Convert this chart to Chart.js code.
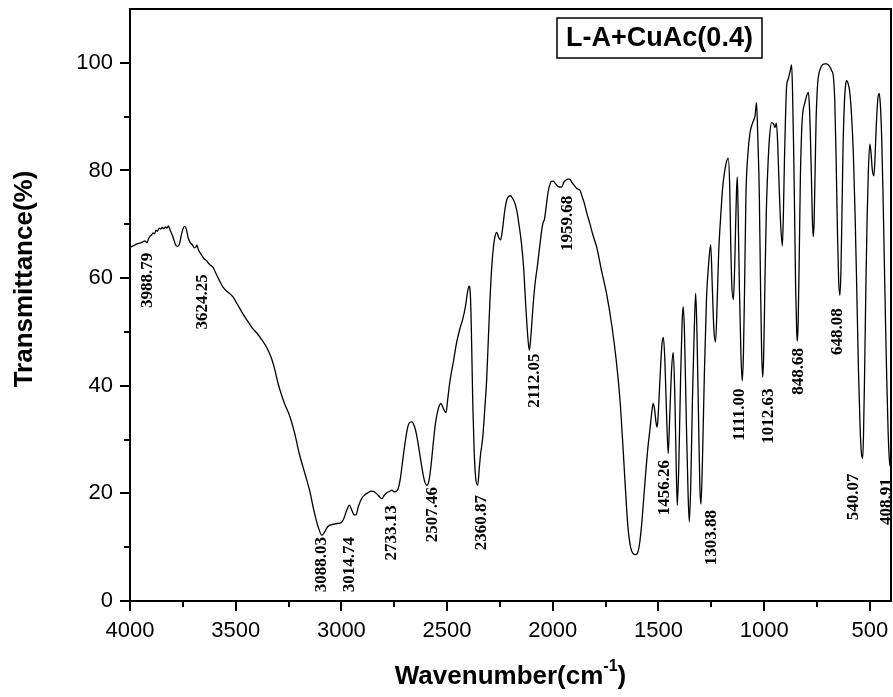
<!DOCTYPE html>
<html>
<head>
<meta charset="utf-8">
<title>FTIR L-A+CuAc(0.4)</title>
<script src="https://cdn.jsdelivr.net/npm/chart.js@4.4.1/dist/chart.umd.min.js"></script>
<style>
  html, body { margin: 0; padding: 0; background: #fff; }
  canvas { display: block; }
</style>
</head>
<body>
<canvas id="irChart" width="893" height="697"></canvas>
<script>
// spectrum: wavenumber (cm-1) and transmittance (%)
const wavenumber = [
  4000, 3985, 3970, 3955, 3940, 3930, 3920, 3912, 3905, 3898,
  3891, 3884, 3877, 3870, 3862, 3855, 3848, 3840, 3832, 3825,
  3818, 3810, 3800, 3790, 3782, 3773, 3765, 3756, 3748, 3740,
  3733, 3725, 3715, 3705, 3695, 3688, 3683, 3677, 3670, 3660,
  3650, 3640, 3631, 3620, 3607, 3595, 3580, 3560, 3540, 3513,
  3490, 3465, 3440, 3423, 3400, 3376, 3352, 3330, 3315, 3300,
  3285, 3270, 3243, 3220, 3200, 3175, 3150, 3130, 3110, 3092,
  3080, 3065, 3045, 3020, 3000, 2990, 2975, 2962, 2950, 2940,
  2931, 2920, 2905, 2890, 2875, 2860, 2845, 2830, 2818, 2808,
  2798, 2785, 2770, 2761, 2750, 2740, 2732, 2722, 2712, 2700,
  2688, 2676, 2666, 2655, 2645, 2632, 2620, 2608, 2595, 2585,
  2575, 2565, 2555, 2545, 2537, 2529, 2520, 2512, 2505, 2497,
  2486, 2470, 2455, 2440, 2425, 2412, 2403, 2396, 2390, 2386,
  2382, 2378, 2372, 2365, 2355, 2348, 2341, 2336, 2330, 2322,
  2313, 2305, 2297, 2288, 2280, 2272, 2265, 2256, 2247, 2238,
  2228, 2218, 2208, 2200, 2190, 2180, 2170, 2160, 2148, 2138,
  2128, 2118, 2111, 2103, 2093, 2084, 2072, 2060, 2050, 2045,
  2040, 2032, 2022, 2012, 2004, 1998, 1988, 1975, 1958, 1948,
  1938, 1928, 1919, 1910, 1900, 1890, 1880, 1871, 1860, 1850,
  1840, 1825, 1810, 1792, 1770, 1745, 1720, 1698, 1682, 1670,
  1658, 1645, 1632, 1620, 1608, 1598, 1590, 1580, 1570, 1560,
  1550, 1540, 1532, 1525, 1518, 1512, 1506, 1500, 1492, 1484,
  1477, 1470, 1462, 1454, 1447, 1438, 1430, 1422, 1416, 1411,
  1404, 1395, 1388, 1383, 1377, 1368, 1360, 1354, 1347, 1339,
  1331, 1324, 1318, 1310, 1304, 1299, 1292, 1283, 1273, 1262,
  1253, 1245, 1238, 1230, 1222, 1215, 1209, 1200, 1193, 1180,
  1170, 1163, 1158, 1154, 1146, 1141, 1136, 1131, 1127, 1123,
  1117, 1110, 1104, 1098, 1092, 1086, 1077, 1067, 1055, 1043,
  1036, 1030, 1023, 1017, 1012, 1007, 1002, 996, 990, 982,
  975, 965, 955, 949, 942, 936, 930, 922, 914, 909,
  904, 899, 894, 886, 878, 870, 866, 861, 856, 851,
  846, 843, 839, 834, 829, 823, 818, 808, 798, 791,
  786, 781, 776, 772, 768, 764, 759, 754, 748, 744,
  730, 715, 704, 690, 680, 673, 666, 660, 654, 648,
  642, 637, 632, 627, 621, 615, 610, 603, 595, 587,
  578, 570, 562, 554, 546, 540, 534, 530, 525, 519,
  513, 507, 500, 495, 488, 481, 476, 470, 463, 456,
  450, 444, 438, 432, 426, 420, 414, 409, 405, 402
];
const transmittance = [
  65.7, 66.0, 66.3, 66.5, 66.7, 66.9, 66.6, 67.3, 67.8, 68.0,
  68.4, 68.2, 68.9, 68.7, 69.3, 69.1, 69.4, 69.2, 69.5, 69.3,
  69.7, 68.9, 68.0, 66.8, 66.0, 65.9, 66.5, 68.2, 69.3, 69.6,
  69.0, 67.5, 66.6, 66.2, 65.6, 65.8, 66.1, 65.3, 64.8, 64.2,
  63.6, 63.3, 62.9, 62.4, 62.0, 61.0, 59.8, 58.3, 57.5, 56.5,
  55.0, 53.3, 51.8, 50.8, 49.8, 48.5, 47.0, 45.0, 43.0, 40.5,
  38.5, 36.8, 34.2, 31.0, 27.5, 24.0, 20.5, 16.8, 13.8, 12.2,
  12.8, 13.8, 14.2, 14.4, 14.6, 15.2, 16.8, 17.8, 16.8, 16.0,
  16.0, 17.5, 19.0, 19.7, 20.1, 20.4, 20.3, 19.8, 19.3, 19.0,
  19.6, 20.1, 20.4, 20.6, 20.3, 20.4, 20.8, 22.5, 25.5, 29.0,
  32.0, 33.2, 33.3, 32.5, 31.0, 28.0, 25.0, 22.5, 21.5, 22.5,
  25.5, 29.5, 33.0, 35.2, 36.3, 36.7, 36.0, 35.3, 35.0, 37.5,
  41.0, 44.5, 48.0, 50.5, 52.5, 55.0, 57.5, 58.5, 57.0, 52.0,
  44.0, 36.0, 28.0, 23.0, 21.5, 24.5, 27.5, 28.8, 31.0, 35.5,
  41.0, 48.5, 56.0, 62.5, 66.0, 68.0, 68.5, 67.6, 67.1, 69.0,
  72.3, 74.5, 75.2, 75.3, 74.8, 74.0, 72.5, 70.0, 66.4, 62.0,
  55.0, 49.0, 46.6, 49.5, 55.0, 58.9, 62.5, 66.5, 69.5, 70.4,
  70.8, 73.0, 76.0, 77.6, 78.0, 78.0, 77.6, 77.0, 76.9, 77.8,
  78.2, 78.4, 78.4, 77.8, 77.3, 76.8, 76.5, 76.3, 75.0, 73.8,
  72.2, 70.2, 68.0, 65.7, 61.5, 57.0, 51.0, 44.1, 37.3, 30.0,
  22.0, 14.0, 10.0, 8.8, 8.6, 9.0, 10.5, 14.0, 19.0, 24.0,
  28.5, 32.0, 35.0, 36.7, 35.5, 33.3, 32.3, 35.5, 42.0, 47.5,
  49.0, 45.0, 35.0, 27.4, 34.0, 43.0, 46.2, 37.0, 25.0, 17.8,
  25.0, 42.0, 52.0, 54.7, 50.0, 33.0, 20.0, 14.7, 22.0, 38.0,
  50.0, 57.2, 50.0, 33.0, 21.0, 18.0, 26.0, 42.0, 56.0, 63.0,
  66.2, 58.0, 50.5, 48.1, 56.0, 65.0, 69.4, 75.0, 78.1, 81.3,
  82.3, 77.0, 66.0, 59.6, 56.0, 60.0, 68.0, 76.0, 78.8, 72.0,
  58.0, 46.0, 40.9, 46.0, 60.0, 75.7, 83.0, 87.0, 88.8, 90.2,
  92.6, 86.0, 75.7, 58.0, 46.5, 41.6, 46.0, 60.0, 72.0, 81.0,
  86.0, 88.9, 88.6, 88.0, 88.8, 85.0, 78.0, 70.0, 66.0, 72.0,
  82.0, 90.0, 95.5, 97.0, 98.3, 99.6, 95.0, 85.0, 72.0, 58.0,
  50.0, 48.3, 52.0, 64.0, 78.0, 87.0, 90.5, 92.5, 94.0, 94.5,
  92.0, 86.0, 78.0, 71.0, 67.7, 70.0, 80.0, 90.0, 95.5, 97.3,
  99.3, 99.8, 99.8, 99.3, 98.5, 97.6, 93.0, 83.0, 70.0, 60.0,
  56.8, 61.0, 72.0, 84.0, 92.0, 95.8, 96.7, 96.2, 94.5, 90.5,
  83.0, 72.0, 58.0, 43.0, 32.0, 27.5, 26.5, 31.0, 42.0, 58.0,
  71.0, 80.0, 84.9, 83.5, 80.0, 79.0, 82.0, 88.0, 93.0, 94.3,
  92.0, 86.0, 76.0, 64.0, 52.0, 41.0, 32.0, 27.0, 25.3, 25.0
];

// peak annotations: text, wavenumber of label centre, %T at label top
const peakLabels = ['3988.79', '3624.25', '3088.03', '3014.74', '2733.13', '2507.46',
  '2360.87', '2112.05', '1959.68', '1456.26', '1303.88', '1111.00', '1012.63',
  '848.68', '648.08', '540.07', '408.91'];
const peakLabelX = [3915, 3655, 3092, 2959, 2761, 2567, 2335, 2084, 1928, 1469, 1247,
  1115, 977, 835, 651, 575, 419];
const peakLabelTop = [64.7, 60.7, 11.9, 11.9, 17.8, 21.2, 19.7, 46.0, 75.3, 26.2, 16.9,
  39.5, 39.5, 47.0, 54.4, 23.7, 22.8];

const xTickValues = [4000, 3500, 3000, 2500, 2000, 1500, 1000, 500];
const xMinorValues = [3750, 3250, 2750, 2250, 1750, 1250, 750];
const yTickValues = [0, 20, 40, 60, 80, 100];
const yMinorValues = [10, 30, 50, 70, 90];
const sampleName = 'L-A+CuAc(0.4)';

const sansFont = "'Liberation Sans', Arial, sans-serif";
const serifFont = "'Liberation Serif', 'Times New Roman', serif";

Chart.defaults.font.family = sansFont;
Chart.defaults.color = '#000';

const points = wavenumber.map((w, i) => ({ x: w, y: transmittance[i] }));

// peak numbers go under the curve
const peakText = {
  id: 'peakText',
  beforeDatasetsDraw(chart) {
    const { ctx, scales: { x, y } } = chart;
    ctx.save();
    ctx.font = 'bold 17px ' + serifFont;
    ctx.fillStyle = '#000';
    ctx.textAlign = 'right';
    ctx.textBaseline = 'middle';
    peakLabels.forEach((t, i) => {
      ctx.save();
      ctx.translate(x.getPixelForValue(peakLabelX[i]), y.getPixelForValue(peakLabelTop[i]));
      ctx.rotate(-Math.PI / 2);
      ctx.fillText(t, 0, 0);
      ctx.restore();
    });
    ctx.restore();
  }
};

// box frame, outward ticks, axis titles and the sample box
const frame = {
  id: 'frame',
  afterDraw(chart) {
    const { ctx, chartArea: a, scales: { x, y } } = chart;
    ctx.save();
    ctx.strokeStyle = '#000';
    ctx.lineWidth = 2;
    ctx.strokeRect(a.left, a.top, a.right - a.left, a.bottom - a.top);

    ctx.beginPath();
    xTickValues.forEach(v => {
      const px = Math.round(x.getPixelForValue(v));
      ctx.moveTo(px, a.bottom); ctx.lineTo(px, a.bottom + 10);
    });
    xMinorValues.forEach(v => {
      const px = Math.round(x.getPixelForValue(v));
      ctx.moveTo(px, a.bottom); ctx.lineTo(px, a.bottom + 6);
    });
    yTickValues.forEach(v => {
      const py = Math.round(y.getPixelForValue(v));
      ctx.moveTo(a.left, py); ctx.lineTo(a.left - 10, py);
    });
    yMinorValues.forEach(v => {
      const py = Math.round(y.getPixelForValue(v));
      ctx.moveTo(a.left, py); ctx.lineTo(a.left - 6, py);
    });
    ctx.stroke();

    // sample name box
    ctx.lineWidth = 1.5;
    ctx.strokeRect(557, 18, 205, 40);
    ctx.font = 'bold 27px ' + sansFont;
    ctx.fillStyle = '#000';
    ctx.textAlign = 'center';
    ctx.textBaseline = 'middle';
    ctx.fillText(sampleName, 659.5, 39);

    // y title
    ctx.save();
    ctx.translate(25, 279);
    ctx.rotate(-Math.PI / 2);
    ctx.font = 'bold 26px ' + sansFont;
    ctx.fillText('Transmittance(%)', 0, 0);
    ctx.restore();

    // x title with superscript
    const main = 'Wavenumber(cm', sup = '-1', tail = ')';
    ctx.font = 'bold 26px ' + sansFont;
    const w1 = ctx.measureText(main).width, w3 = ctx.measureText(tail).width;
    ctx.font = 'bold 16px ' + sansFont;
    const w2 = ctx.measureText(sup).width;
    let tx = (a.left + a.right) / 2 - (w1 + w2 + w3) / 2;
    const ty = 684;
    ctx.textAlign = 'left';
    ctx.textBaseline = 'alphabetic';
    ctx.font = 'bold 26px ' + sansFont;
    ctx.fillText(main, tx, ty);
    ctx.font = 'bold 16px ' + sansFont;
    ctx.fillText(sup, tx + w1, ty - 13);
    ctx.font = 'bold 26px ' + sansFont;
    ctx.fillText(tail, tx + w1 + w2, ty);
    ctx.restore();
  }
};

new Chart(document.getElementById('irChart'), {
  type: 'line',
  data: {
    datasets: [{
      data: points,
      borderColor: '#000',
      borderWidth: 1.3,
      pointRadius: 0,
      cubicInterpolationMode: 'monotone',
      fill: false
    }]
  },
  options: {
    responsive: false,
    animation: false,
    layout: { padding: { top: 9, right: 2, left: 0, bottom: 0 } },
    plugins: { legend: { display: false }, tooltip: { enabled: false } },
    scales: {
      x: {
        type: 'linear',
        min: 400,
        max: 4000,
        reverse: true,
        grid: { display: false, drawTicks: false },
        border: { display: false },
        afterBuildTicks: s => { s.ticks = xTickValues.map(v => ({ value: v })); },
        afterFit: s => { s.height = 96; s.paddingLeft = 0; s.paddingRight = 0; },
        ticks: {
          font: { size: 22 }, padding: 17, maxRotation: 0, autoSkip: false,
          callback: v => String(v)
        }
      },
      y: {
        min: 0,
        max: 110,
        grid: { display: false, drawTicks: false },
        border: { display: false },
        afterBuildTicks: s => { s.ticks = yTickValues.map(v => ({ value: v })); },
        afterFit: s => { s.width = 130; s.paddingTop = 0; s.paddingBottom = 0; },
        ticks: { font: { size: 22 }, padding: 17, callback: v => String(v) }
      }
    }
  },
  plugins: [peakText, frame]
});
</script>
</body>
</html>
